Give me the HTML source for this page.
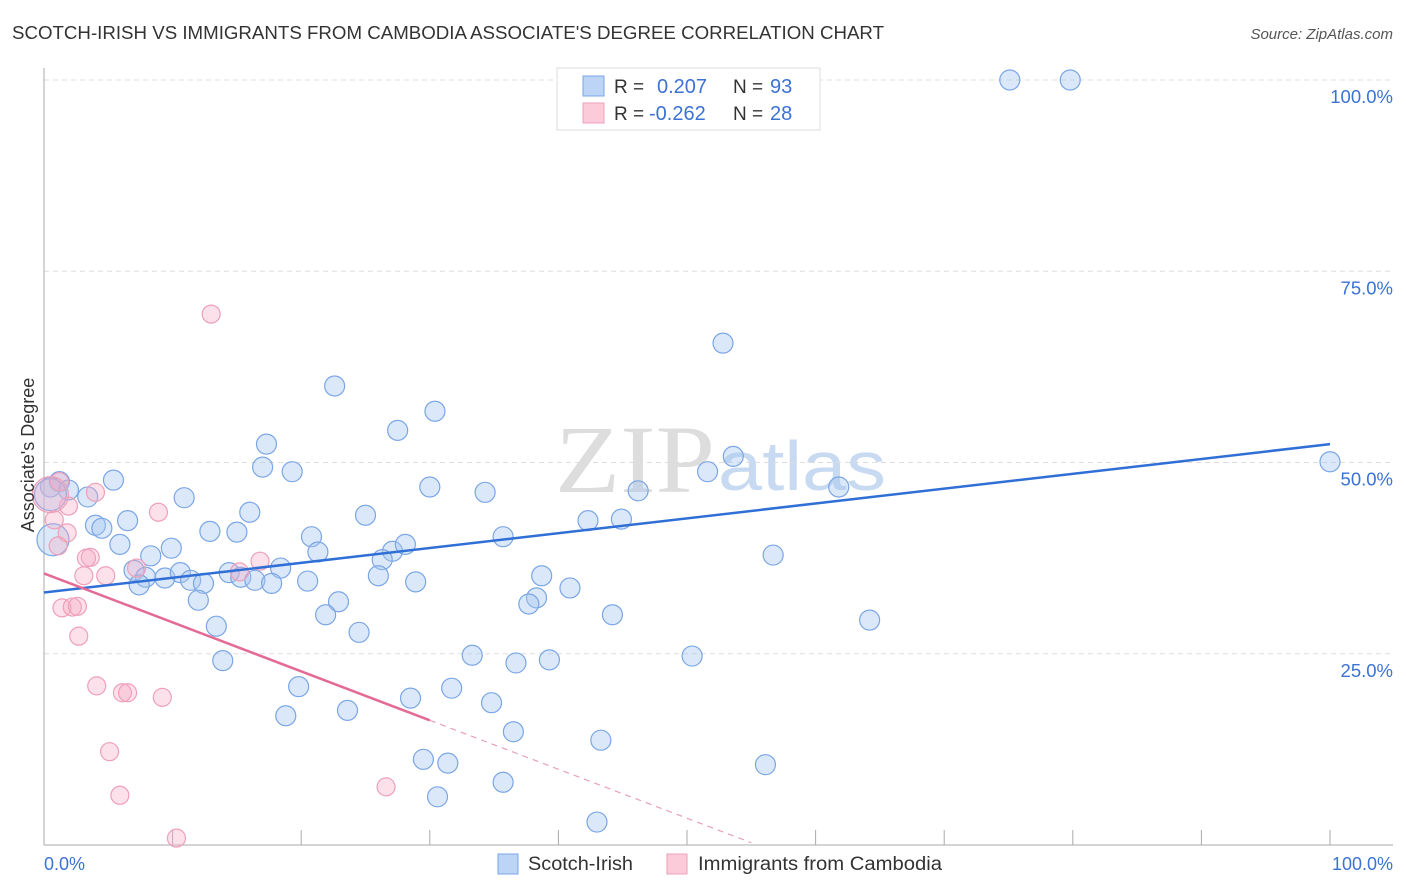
<!DOCTYPE html>
<html><head><meta charset="utf-8"><style>
body{margin:0;background:#fff;font-family:"Liberation Sans",sans-serif}
</style></head><body>
<svg id="c" width="1406" height="892" style="display:block">
<text x="12" y="39" font-size="18" fill="#333" textLength="872" lengthAdjust="spacingAndGlyphs">SCOTCH-IRISH VS IMMIGRANTS FROM CAMBODIA ASSOCIATE'S DEGREE CORRELATION CHART</text>
<text x="1393" y="39" font-size="15" fill="#555" font-style="italic" text-anchor="end">Source: ZipAtlas.com</text>
<text x="555" y="492" font-size="96" fill="#ddd" textLength="160" lengthAdjust="spacingAndGlyphs" font-family="Liberation Serif,serif">ZIP</text>
<text x="718" y="490" font-size="70" fill="#c8daf2" textLength="168" lengthAdjust="spacingAndGlyphs">atlas</text>
<g id="grid"></g><g id="pts"></g><g id="trend"></g>
<text transform="translate(34,455) rotate(-90)" font-size="18" fill="#333" text-anchor="middle">Associate's Degree</text>
<text x="44" y="870" font-size="18" fill="#3b72d4">0.0%</text>
<text x="1393" y="870" font-size="18" fill="#3b72d4" text-anchor="end">100.0%</text>
<g>
<rect x="498" y="854" width="20" height="20" fill="#bcd4f6" stroke="#7aa6e6"/>
<text x="528" y="870" font-size="19" fill="#333" textLength="105" lengthAdjust="spacingAndGlyphs">Scotch-Irish</text>
<rect x="667" y="854" width="20" height="20" fill="#fbcbd9" stroke="#eea0b8"/>
<text x="698" y="870" font-size="19" fill="#333" textLength="244" lengthAdjust="spacingAndGlyphs">Immigrants from Cambodia</text>
</g>
<g>
<rect x="557" y="68" width="263" height="62" fill="#fff" stroke="#ddd"/>
<rect x="583" y="76" width="21" height="20" fill="#bcd4f6" stroke="#7aa6e6"/>
<rect x="583" y="103" width="21" height="20" fill="#fbcbd9" stroke="#eea0b8"/>
<text x="614" y="93" font-size="19" fill="#333">R =</text><text x="657" y="93" font-size="20" fill="#3b72d4">0.207</text>
<text x="733" y="93" font-size="19" fill="#333">N =</text><text x="770" y="93" font-size="20" fill="#3b72d4">93</text>
<text x="614" y="120" font-size="19" fill="#333">R =</text><text x="649" y="120" font-size="20" fill="#3b72d4">-0.262</text>
<text x="733" y="120" font-size="19" fill="#333">N =</text><text x="770" y="120" font-size="20" fill="#3b72d4">28</text>
</g>
</svg>
<script>
const blueX=[75.1,79.8,52.8,22.6,30.4,27.5,17.3,17.0,19.3,5.4,1.2,1.9,3.4,10.9,0.5,30.0,34.3,46.2,51.6,53.6,61.8,100,16.0,25.0,6.5,4.0,4.5,12.9,15.0,42.3,44.9,20.8,35.7,5.9,9.9,21.3,27.1,28.1,8.3,26.3,56.7,7.0,18.4,7.9,9.4,10.6,11.4,12.4,14.4,15.3,16.4,17.7,20.5,26.0,28.9,38.7,7.4,12.0,22.9,38.3,37.7,40.9,21.9,44.2,64.2,13.4,24.5,33.3,39.3,36.7,50.4,13.9,19.8,31.7,28.5,34.8,23.6,18.8,36.5,43.3,29.5,31.4,56.1,35.7,30.6,43.0,0.7,0.5];
const blueY=[100,100,65.6,60.0,56.7,54.2,52.4,49.4,48.8,47.7,47.5,46.4,45.5,45.4,46.8,46.8,46.1,46.3,48.8,50.8,46.8,50.1,43.5,43.1,42.4,41.8,41.4,41.0,40.9,42.4,42.6,40.3,40.3,39.3,38.8,38.3,38.4,39.3,37.8,37.3,37.9,35.9,36.2,35.0,34.9,35.6,34.6,34.2,35.6,35.0,34.6,34.2,34.5,35.2,34.4,35.2,34.0,32.0,31.8,32.3,31.5,33.6,30.1,30.1,29.4,28.6,27.8,24.8,24.2,23.8,24.7,24.1,20.7,20.5,19.2,18.6,17.6,16.9,14.8,13.7,11.2,10.7,10.5,8.2,6.3,3.0,39.9,45.8];
const pinkX=[13.0,1.2,4.0,1.9,8.9,0.8,1.8,1.1,3.6,3.3,7.2,15.2,16.8,3.1,4.8,1.4,2.2,2.6,2.7,4.1,6.1,6.5,9.2,5.1,5.9,10.3,26.6,0.5];
const pinkY=[69.4,47.5,46.1,44.3,43.5,42.5,40.8,39.1,37.6,37.5,36.2,35.7,37.1,35.2,35.2,31.0,31.1,31.2,27.3,20.8,19.9,19.9,19.3,12.2,6.5,0.9,7.6,45.8];
const yTicks=[25,50,75,100];
const yTickLabels=["25.0%","50.0%","75.0%","100.0%"];
const xTicks=[10,20,30,40,50,60,70,80,90,100];
const blueTrend=[33.0,52.4];
const pinkTrend=[35.5,-0.64];
const pinkSolidEnd=30, pinkDashEnd=55;
const NS="http://www.w3.org/2000/svg";
const X=v=>44+v*12.86, Y=v=>845-v*7.65;
function mk(t,a,p){const e=document.createElementNS(NS,t);for(const k in a)e.setAttribute(k,a[k]);p.appendChild(e);return e;}
const g=document.getElementById('grid');
yTicks.forEach((t,i)=>{
 const l=mk('line',{x1:44,x2:1393,y1:Y(t),y2:Y(t),stroke:'#ddd','stroke-dasharray':'5,4'},g);
 
 
 const tx=mk('text',{x:1393,y:Y(t)+23,'font-size':18.5,fill:'#3b72d4','text-anchor':'end'},g);
 tx.textContent=yTickLabels[i];
 
 
});
const ax=mk('line',{x1:44,x2:1393,y1:845,y2:845,stroke:'#aaa'},g);


const ay=mk('line',{x1:44,x2:44,y1:68,y2:845,stroke:'#aaa'},g);


xTicks.forEach(t=>{
 const l=mk('line',{x1:X(t),x2:X(t),y1:830,y2:845,stroke:'#aaa'},g);
 
 
});
const p=document.getElementById('pts');
blueX.forEach((x,i)=>{
 const r=i>=blueX.length-2?16:10;
 const c=mk('circle',{cx:X(x),cy:Y(blueY[i]),r:r,fill:'rgba(165,198,240,0.4)',stroke:'#7aa6e6','stroke-width':1.2},p);
 
 
});
pinkX.forEach((x,i)=>{
 const r=i==pinkX.length-1?18:9;
 const c=mk('circle',{cx:X(x),cy:Y(pinkY[i]),r:r,fill:'rgba(245,170,195,0.35)',stroke:'#eea0b8','stroke-width':1.2},p);
 
 
});
const tg=document.getElementById('trend');
const bl=mk('line',{x1:X(0),y1:Y(blueTrend[0]),x2:X(100),y2:Y(blueTrend[1]),stroke:'#2f6fd6','stroke-width':2.5},tg);


const pf=x=>pinkTrend[0]+pinkTrend[1]*x;
const pl=mk('line',{x1:X(0),y1:Y(pf(0)),x2:X(pinkSolidEnd),y2:Y(pf(pinkSolidEnd)),stroke:'#e36b95','stroke-width':2.5},tg);


const pd=mk('line',{x1:X(pinkSolidEnd),y1:Y(pf(pinkSolidEnd)),x2:X(pinkDashEnd),y2:Y(pf(pinkDashEnd)),stroke:'#e8a0b8','stroke-width':1.2,'stroke-dasharray':'6,5'},tg);


</script>
</body></html>
